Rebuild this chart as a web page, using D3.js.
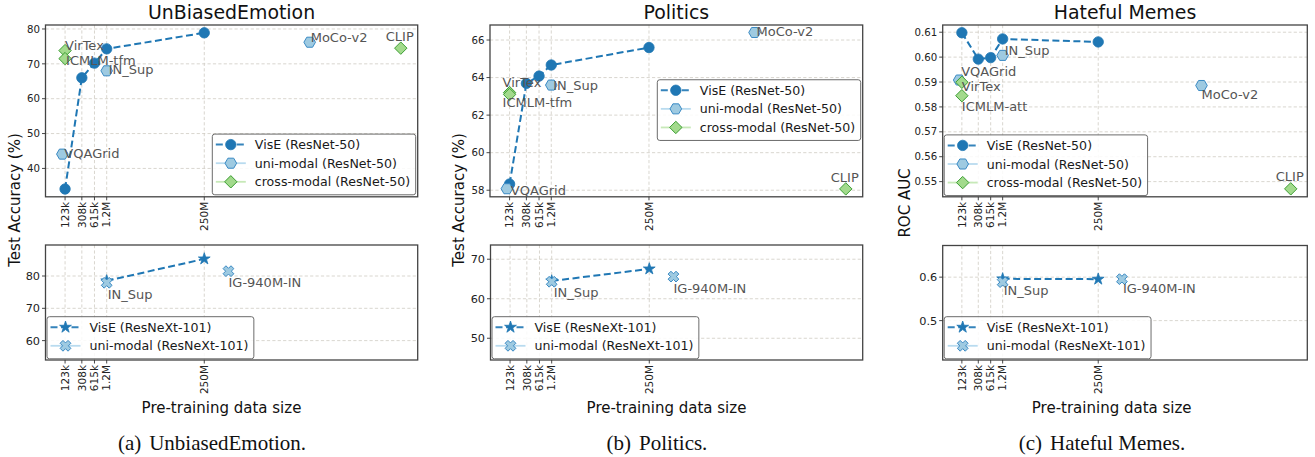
<!DOCTYPE html>
<html><head><meta charset="utf-8">
<script src="https://cdn.jsdelivr.net/npm/d3@7"></script>
<style>
body{margin:0;background:#fff}
svg{display:block}
text{font-family:"DejaVu Sans",sans-serif}
</style>
</head><body>
<svg id="c" width="1315" height="457"></svg>
<script>
// ---------------- DATA ----------------
const sizeTicks = [123e3, 308e3, 615e3, 1.2e6, 250e6];
const sizeTickLabels = ["123k", "308k", "615k", "1.2M", "250M"];
const visESizes = [123e3, 308e3, 615e3, 1.2e6, 250e6];
const uniNames = ["VQAGrid", "IN_Sup", "MoCo-v2"];
const uniSizes = [1.06e5, 1.2e6, 8e10];
const crossSizes = [123e3, 123e3, 1.17e13];
const nextSizes = [1.2e6, 250e6];
const uniNextNames = ["IN_Sup", "IG-940M-IN"];
const uniNextSizes = [1.2e6, 9.4e8];

// UnBiasedEmotion
const emoVisE = [34.1, 66.0, 70.2, 74.3, 78.9];
const emoUni = [44.1, 68.0, 76.2];
const emoCrossNames = ["VirTex", "ICMLM-tfm", "CLIP"];
const emoCross = [73.8, 71.5, 74.5];
const emoVisENext = [78.5, 85.3];
const emoUniNext = [77.9, 81.5];
const emoTicksTop = [40, 50, 60, 70, 80];
const emoTicksBot = [60, 70, 80];

// Politics
const polVisE = [58.33, 63.69, 64.08, 64.67, 65.6];
const polUni = [58.08, 63.6, 66.4];
const polCrossNames = ["VirTex", "ICMLM-tfm", "CLIP"];
const polCross = [63.2, 63.1, 58.07];
const polVisENext = [64.5, 67.55];
const polUniNext = [64.3, 65.6];
const polTicksTop = [58, 60, 62, 64, 66];
const polTicksBot = [50, 60, 70];

// Hateful Memes
const hmVisE = [0.6098, 0.5992, 0.5998, 0.6073, 0.6061];
const hmUni = [0.5908, 0.6007, 0.5886];
const hmCrossNames = ["VirTex", "ICMLM-att", "CLIP"];
const hmCross = [0.5899, 0.5845, 0.5471];
const hmVisENext = [0.5961, 0.5954];
const hmUniNext = [0.5885, 0.5954];
const hmTicksTop = [0.55, 0.56, 0.57, 0.58, 0.59, 0.60, 0.61];
const hmTicksBot = [0.5, 0.6];

const legendTop = ["VisE (ResNet-50)", "uni-modal (ResNet-50)", "cross-modal (ResNet-50)"];
const legendBot = ["VisE (ResNeXt-101)", "uni-modal (ResNeXt-101)"];

// ---------------- LAYOUT / STYLE ----------------
const BLUE = "#1f77b4", UNI_FILL = "#9ecae1", UNI_EDGE = "#3a8ac4",
      CR_FILL = "#a2da8c", CR_EDGE = "#3c9e33", LBL = "#555";
const xLogDomain = [Math.pow(10, 4.625), Math.pow(10, 13.47)];

const panels = [
  { title: "UnBiasedEmotion", cap: ["(a)", "UnbiasedEmotion."], capX: 212,
    ylabel: "Test Accuracy (%)", ylX: 15, ylY: 200, xlX: 221.5,
    top: { x0: 45.5, x1: 417.7, y0: 25, y1: 196.8, yd: [31.86, 81.14], ticks: emoTicksTop, fmt: d3.format("d"), fs: 10.2 },
    bot: { x0: 45.5, x1: 417.7, y0: 245, y1: 360, yd: [54.0, 89.6], ticks: emoTicksBot, fmt: d3.format("d"), fs: 11.3 },
    visE: emoVisE, uni: emoUni, crossNames: emoCrossNames, cross: emoCross, visENext: emoVisENext, uniNext: emoUniNext,
    uniOff: [[2, 3.5], [2, 3.5], [1, -0.5]], crossOff: [[0, -1], [1, 6], [-15, -7]], nextOff: [[1, 16], [0, 16.3]],
    legTop: { anchor: "lr" }, legBot: { anchor: "ll" } },
  { title: "Politics", cap: ["(b)", "Politics."], capX: 657,
    ylabel: "Test Accuracy (%)", ylX: 459, ylY: 200, xlX: 666.5,
    top: { x0: 490, x1: 862.7, y0: 25, y1: 196.8, yd: [57.65, 66.8], ticks: polTicksTop, fmt: d3.format("d"), fs: 10.2 },
    bot: { x0: 490.5, x1: 862.7, y0: 245, y1: 360, yd: [44.5, 73.6], ticks: polTicksBot, fmt: d3.format("d"), fs: 11.3 },
    visE: polVisE, uni: polUni, crossNames: polCrossNames, cross: polCross, visENext: polVisENext, uniNext: polUniNext,
    uniOff: [[4, 6], [2, 5], [2, 3]], crossOff: [[-7, -6], [-7, 12.5], [-15, -6.5]], nextOff: [[2, 15.5], [0, 16]],
    legTop: { anchor: "cr" }, legBot: { anchor: "ll" } },
  { title: "Hateful Memes", cap: ["(c)", "Hateful Memes."], capX: 1102,
    ylabel: "ROC AUC", ylX: 905, ylY: 203, xlX: 1111.7,
    top: { x0: 942.7, x1: 1307.3, y0: 25, y1: 196.8, yd: [0.5439, 0.6129], ticks: hmTicksTop, fmt: d3.format(".2f"), fs: 10.2 },
    bot: { x0: 942.7, x1: 1307.3, y0: 245.5, y1: 360, yd: [0.4094, 0.6728], ticks: hmTicksBot, fmt: d3.format(".1f"), fs: 11.3 },
    visE: hmVisE, uni: hmUni, crossNames: hmCrossNames, cross: hmCross, visENext: hmVisENext, uniNext: hmUniNext,
    uniOff: [[2, -4], [2, -0.5], [0, 13.5]], crossOff: [[0, 9], [0, 15.5], [-15, -8]], nextOff: [[1, 13], [1, 13.5]],
    legTop: { anchor: "ll" }, legBot: { anchor: "ll" } }
];

// ---------------- MARKERS ----------------
function hexPath(r) { const p = []; for (let i = 0; i < 6; i++) { const a = Math.PI / 3 * i; p.push([r * Math.cos(a), r * Math.sin(a)]); } return "M" + p.map(d => d.map(v => v.toFixed(2)).join(",")).join("L") + "Z"; }
function diamondPath(r) { return `M0,${-r}L${r},0L0,${r}L${-r},0Z`; }
function starPath(R) { const ri = R * 0.382, p = []; for (let i = 0; i < 10; i++) { const a = -Math.PI / 2 + i * Math.PI / 5, rr = i % 2 ? ri : R; p.push([rr * Math.cos(a), rr * Math.sin(a)]); } return "M" + p.map(d => d.map(v => v.toFixed(2)).join(",")).join("L") + "Z"; }
function xPath(r) { const w = r * 0.36; const pts = [[-w,-r],[w,-r],[w,-w],[r,-w],[r,w],[w,w],[w,r],[-w,r],[-w,w],[-r,w],[-r,-w],[-w,-w]]; const c = Math.SQRT1_2; return "M" + pts.map(([a,b]) => [(a*c - b*c).toFixed(2), (a*c + b*c).toFixed(2)].join(",")).join("L") + "Z"; }

function marker(g, type, cx, cy) {
  if (type === "vise") g.append("circle").attr("cx", cx).attr("cy", cy).attr("r", 5.2).attr("fill", BLUE).attr("stroke", BLUE).attr("stroke-width", 0.8);
  else if (type === "uni") g.append("path").attr("d", hexPath(5.8)).attr("transform", `translate(${cx},${cy})`).attr("fill", UNI_FILL).attr("stroke", UNI_EDGE).attr("stroke-width", 1);
  else if (type === "cross") g.append("path").attr("d", diamondPath(6.2)).attr("transform", `translate(${cx},${cy})`).attr("fill", CR_FILL).attr("stroke", CR_EDGE).attr("stroke-width", 1);
  else if (type === "star") g.append("path").attr("d", starPath(6.2)).attr("transform", `translate(${cx},${cy})`).attr("fill", BLUE).attr("stroke", BLUE).attr("stroke-width", 0.8).attr("stroke-linejoin", "round");
  else if (type === "unix") g.append("path").attr("d", xPath(5.6)).attr("transform", `translate(${cx},${cy})`).attr("fill", UNI_FILL).attr("stroke", UNI_EDGE).attr("stroke-width", 1);
}

const svg = d3.select("#c");

function drawAxes(ax, isTop) {
  const g = svg.append("g");
  const x = d3.scaleLog().domain(xLogDomain).range([ax.x0, ax.x1]);
  const y = d3.scaleLinear().domain(ax.yd).range([ax.y1, ax.y0]);
  // grid
  const grid = g.append("g").attr("stroke", "#cfcbc3").attr("stroke-width", 0.8).attr("stroke-dasharray", "3.2,2.2");
  sizeTicks.forEach(t => grid.append("line").attr("x1", x(t)).attr("x2", x(t)).attr("y1", ax.y0).attr("y2", ax.y1));
  ax.ticks.forEach(t => grid.append("line").attr("x1", ax.x0).attr("x2", ax.x1).attr("y1", y(t)).attr("y2", y(t)));
  // frame
  g.append("rect").attr("x", ax.x0).attr("y", ax.y0).attr("width", ax.x1 - ax.x0).attr("height", ax.y1 - ax.y0)
    .attr("fill", "none").attr("stroke", "#444").attr("stroke-width", 1.3);
  // y ticks
  ax.ticks.forEach(t => {
    g.append("line").attr("x1", ax.x0 - 3.5).attr("x2", ax.x0).attr("y1", y(t)).attr("y2", y(t)).attr("stroke", "#333").attr("stroke-width", 0.9);
    g.append("text").attr("x", ax.x0 - 5.5).attr("y", y(t)).attr("dy", "0.36em").attr("text-anchor", "end")
      .attr("font-size", ax.fs).attr("fill", "#222").text(ax.fmt(t));
  });
  // x ticks
  sizeTicks.forEach((t, i) => {
    g.append("line").attr("x1", x(t)).attr("x2", x(t)).attr("y1", ax.y1).attr("y2", ax.y1 + 3.5).attr("stroke", "#333").attr("stroke-width", 0.9);
    g.append("text").attr("transform", `translate(${x(t)},${ax.y1 + 5}) rotate(-90)`).attr("dy", "0.36em")
      .attr("text-anchor", "end").attr("font-size", 10.5).attr("fill", "#222").text(sizeTickLabels[i]);
  });
  return { g, x, y };
}

function drawLegend(ax, items, anchor) {
  const fs = 12.6, rowH = 18.6;
  const g = svg.append("g");
  const tmp = g.append("g");
  let maxW = 0;
  items.forEach(it => { const t = tmp.append("text").attr("font-size", fs).text(it.label); maxW = Math.max(maxW, t.node().getComputedTextLength()); });
  tmp.remove();
  const w = 42.5 + maxW + 5.5, h = 10.5 + (items.length - 1) * rowH + 13;
  let L, T;
  if (anchor === "lr") { L = ax.x1 - 2 - w; T = ax.y1 - 2 - h; }
  else if (anchor === "ll") { L = ax.x0 + 1.5; T = ax.y1 - 1.2 - h; }
  else { L = ax.x1 - 2 - w; T = (ax.y0 + ax.y1) / 2 - h / 2 - 0.8; }
  g.append("rect").attr("x", L).attr("y", T).attr("width", w).attr("height", h).attr("rx", 2.5)
    .attr("fill", "#fff").attr("fill-opacity", 0.85).attr("stroke", "#6b6b6b").attr("stroke-width", 1);
  items.forEach((it, i) => {
    const cy = T + 10.5 + i * rowH;
    const line = g.append("line").attr("x1", L + 3.5).attr("x2", L + 33.5).attr("y1", cy).attr("y2", cy);
    if (it.type === "vise" || it.type === "star") line.attr("stroke", BLUE).attr("stroke-width", 2).attr("stroke-dasharray", "7,3.5").attr("stroke-opacity", 0.9);
    else if (it.type === "uni" || it.type === "unix") line.attr("stroke", "#b9dbef").attr("stroke-width", 1.8);
    else line.attr("stroke", "#c7e9b8").attr("stroke-width", 1.8);
    marker(g, it.type, L + 18.5, cy);
    g.append("text").attr("x", L + 42.5).attr("y", cy + 4.6).attr("font-size", fs).attr("fill", "#1a1a1a").text(it.label);
  });
}

function label(g, txt, px, py, off) {
  g.append("text").attr("x", px + off[0]).attr("y", py + off[1]).attr("font-size", 13).attr("fill", LBL).text(txt);
}

panels.forEach(p => {
  // ---- top axes
  const A = drawAxes(p.top, true);
  const lineGen = d3.line().x(d => A.x(d[0])).y(d => A.y(d[1]));
  const vpts = visESizes.map((s, i) => [s, p.visE[i]]);
  A.g.append("path").attr("d", lineGen(vpts)).attr("fill", "none").attr("stroke", BLUE).attr("stroke-width", 2).attr("stroke-dasharray", "7,3.5");
  vpts.forEach(d => marker(A.g, "vise", A.x(d[0]), A.y(d[1])));
  uniSizes.forEach((s, i) => marker(A.g, "uni", A.x(s), A.y(p.uni[i])));
  crossSizes.forEach((s, i) => marker(A.g, "cross", A.x(s), A.y(p.cross[i])));
  uniSizes.forEach((s, i) => label(A.g, uniNames[i], A.x(s), A.y(p.uni[i]), p.uniOff[i]));
  crossSizes.forEach((s, i) => label(A.g, p.crossNames[i], A.x(s), A.y(p.cross[i]), p.crossOff[i]));
  drawLegend(p.top, [{ type: "vise", label: legendTop[0] }, { type: "uni", label: legendTop[1] }, { type: "cross", label: legendTop[2] }], p.legTop.anchor);

  // ---- bottom axes
  const B = drawAxes(p.bot, false);
  const lineB = d3.line().x(d => B.x(d[0])).y(d => B.y(d[1]));
  const npts = nextSizes.map((s, i) => [s, p.visENext[i]]);
  B.g.append("path").attr("d", lineB(npts)).attr("fill", "none").attr("stroke", BLUE).attr("stroke-width", 2).attr("stroke-dasharray", "7,3.5");
  npts.forEach(d => marker(B.g, "star", B.x(d[0]), B.y(d[1])));
  uniNextSizes.forEach((s, i) => marker(B.g, "unix", B.x(s), B.y(p.uniNext[i])));
  uniNextSizes.forEach((s, i) => label(B.g, uniNextNames[i], B.x(s), B.y(p.uniNext[i]), p.nextOff[i]));
  drawLegend(p.bot, [{ type: "star", label: legendBot[0] }, { type: "unix", label: legendBot[1] }], p.legBot.anchor);

  // ---- titles and labels
  svg.append("text").attr("x", (p.top.x0 + p.top.x1) / 2).attr("y", 19).attr("text-anchor", "middle").attr("font-size", 18.9).attr("fill", "#111").text(p.title);
  svg.append("text").attr("transform", `translate(${p.ylX},${p.ylY}) rotate(-90)`).attr("dy", "0.36em").attr("text-anchor", "middle").attr("font-size", 15).attr("fill", "#111").text(p.ylabel);
  svg.append("text").attr("x", p.xlX).attr("y", 412.5).attr("text-anchor", "middle").attr("font-size", 15).attr("fill", "#111").text("Pre-training data size");
  const c = svg.append("text").attr("x", p.capX).attr("y", 450).attr("text-anchor", "middle").attr("font-size", 21)
    .attr("fill", "#111").style("font-family", '"Liberation Serif", "Times New Roman", serif');
  c.append("tspan").text(p.cap[0]);
  c.append("tspan").attr("dx", 8).text(p.cap[1]);
});
</script>
</body></html>
